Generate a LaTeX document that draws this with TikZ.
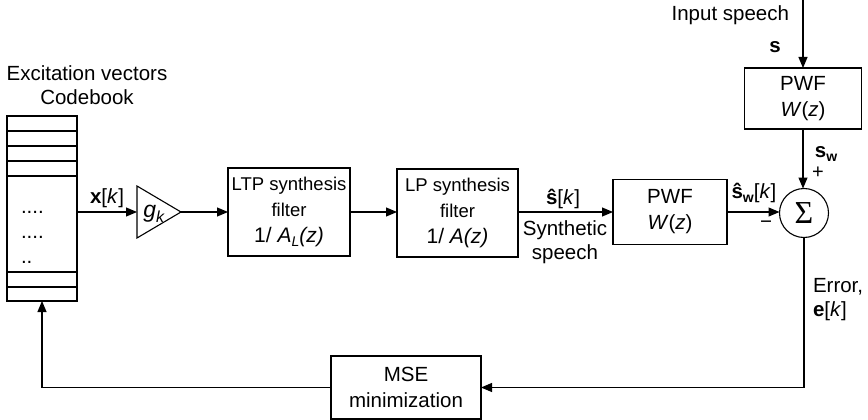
\documentclass[tikz,border=0pt]{standalone}
\usepackage{fontspec}
\setmainfont{Liberation Sans}
\newfontfamily\serifsym{Liberation Serif}
\usetikzlibrary{arrows.meta,shapes.geometric}
\newcommand\mysub[1]{\raisebox{-0.35ex}{\fontsize{14}{14}\selectfont #1}}
\newcommand\smalltxt{\fontsize{18.5}{23.5}\selectfont}
\newcommand\bigtxt{\fontsize{21}{23.5}\selectfont}
\begin{document}
\begin{tikzpicture}[x=1pt,y=-1pt,
  line width=1.1pt,
  every node/.style={inner sep=0pt, outer sep=0pt},
  txt/.style={font=\fontsize{20.5}{24}\selectfont, align=center},
  box/.style={draw, rectangle, align=center, font=\fontsize{20.5}{26}\selectfont},
  arr/.style={-{Triangle[length=11pt,width=9pt]}},
  rowline/.style={line width=1.1pt},
]
\useasboundingbox (0,0) rectangle (868,420);

% codebook
\node[txt] (cbtitle) at (87,85) {Excitation vectors\\Codebook};
\node[draw, rectangle, minimum width=70pt, minimum height=185pt] (codebook) at (42,208.5) {};
\foreach \yy in {131,146,161,176,272,287}
  \draw[rowline] (codebook.west |- 0,\yy) -- (codebook.east |- 0,\yy);
\node[txt, anchor=base west] (d1) at (21,213) {....};
\node[txt, anchor=base west] (d2) at (21,238) {....};
\node[txt, anchor=base west] (d3) at (21,263) {..};

% gain
\node[draw, isosceles triangle, isosceles triangle stretches, shape border rotate=0,
      minimum width=52pt, minimum height=44pt, anchor=west] (amp) at (137,212) {};
\node[font=\fontsize{23}{23}\selectfont] (gk) at (154,214) {\textit{g}\raisebox{-0.35ex}{\fontsize{16}{16}\selectfont\textit{k}}};
\node[txt] (xk) at (107,198) {\textbf{x}[\textit{k}]};

% filters
\node[box, minimum width=122pt, minimum height=88pt] (ltp) at (289,212)
  {\smalltxt LTP synthesis\\\smalltxt filter\\\bigtxt 1/ \textit{A\mysub{L}(z)}};
\node[box, minimum width=121pt, minimum height=88pt] (lp) at (457.5,213)
  {\smalltxt LP synthesis\\\smalltxt filter\\\bigtxt 1/ \textit{A(z)}};
\node[box, minimum width=114pt, minimum height=65pt] (pwf) at (670,212)
  {PWF\\\textit{W}(\textit{z})};
\node[box, minimum width=117pt, minimum height=61pt] (pwft) at (803,98.5)
  {PWF\\\textit{W}(\textit{z})};
\node[draw, circle, minimum size=49pt] (sum) at (804,213) {\fontsize{32}{32}\selectfont\serifsym Σ};
\node[box, minimum width=150pt, minimum height=63pt] (mse) at (406,387.5)
  {MSE\\minimization};

% labels
\node[txt] (shat) at (563,199) {\textbf{ŝ}[\textit{k}]};
\node[txt] (synth) at (565,242) {Synthetic\\speech};
\node[txt] (shatw) at (754,193) {\textbf{ŝ}\mysub{\textbf{w}}[\textit{k}]};
\node[txt] (minus) at (766,225) {−};
\node[txt, anchor=east] (inp) at (789,15) {Input speech};
\node[txt] (s) at (775,47) {\textbf{s}};
\node[txt] (sw) at (826,154) {\textbf{s}\mysub{\textbf{w}}};
\node[font=\fontsize{20}{20}\selectfont] (plus) at (818,173) {+};
\node[txt, anchor=west, align=left] (err) at (813,300) {Error,\\\textbf{e}[\textit{k}]};

% connectors
\coordinate (inpt) at (803,0);
\draw[arr] (codebook.east |- amp.west) -- (amp.west);
\draw[arr] (amp.east) -- (ltp.west);
\draw[arr] (ltp.east) -- (ltp.east -| lp.west);
\draw[arr] (lp.east |- pwf.west) -- (pwf.west);
\draw[arr] (pwf.east) -- (pwf.east -| sum.west);
\draw[arr] (inpt) -- (pwft.north);
\draw[arr] (pwft.south) -- (pwft.south |- sum.north);
\draw[arr] (sum.south) |- (mse.east);
\draw[arr] (mse.west) -| (codebook.south);
\end{tikzpicture}
\end{document}
